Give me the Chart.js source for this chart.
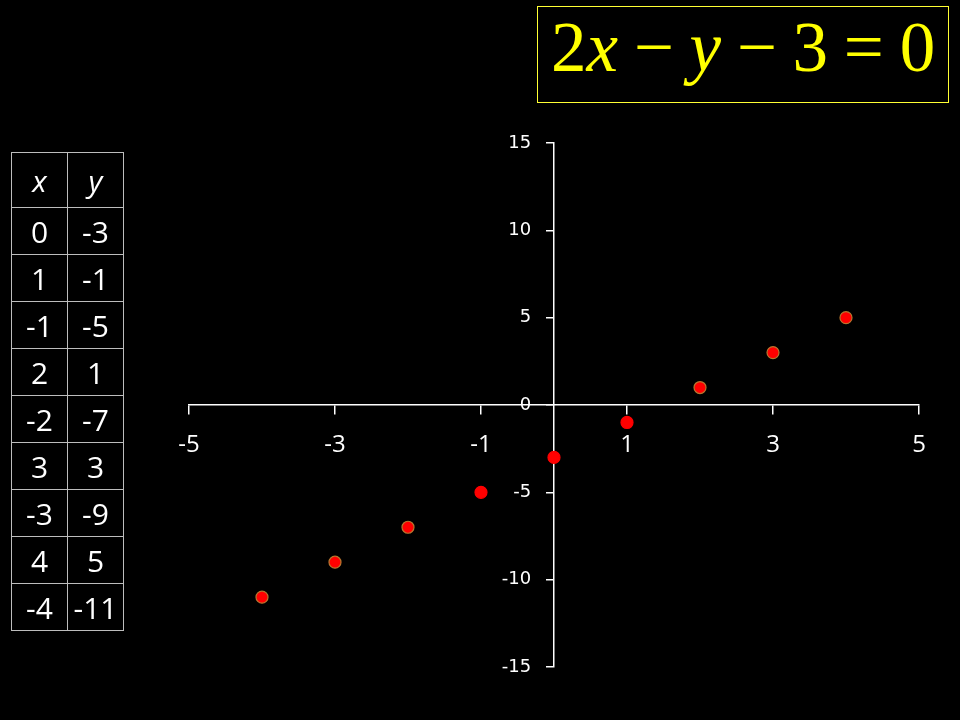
<!DOCTYPE html>
<html>
<head>
<meta charset="utf-8">
<script src="https://cdn.jsdelivr.net/npm/chart.js@4"></script>
<style>
    body { margin: 0; background: #000; }
    #wrap { position: relative; width: 960px; height: 720px; background: #000; overflow: hidden; }
    #chart { position: absolute; left: 0; top: 0; }
    #title {
        position: absolute; left: 537px; top: 6px; width: 410px; height: 95px;
        border: 1px solid #ffff33; box-sizing: content-box;
        color: #ffff00; font-family: "Liberation Serif", "Times New Roman", serif;
        font-size: 71px; line-height: 81px; white-space: nowrap;
        word-spacing: -2px; text-indent: 13px;
    }
    #title i { font-style: italic; }
    #tabel { position: absolute; left: 11px; top: 152px; border-collapse: collapse; }
    #tabel td {
        border: 1px solid #bdbdbd; width: 55px; height: 46px; padding: 0;
        color: #fff; text-align: center; font-family: "Open Sans", sans-serif; font-size: 30px;
    }
    #tabel tr.head td { height: 54px; font-style: italic; }
</style>
</head>
<body>
<div id="wrap">
    <canvas id="chart" width="960" height="720"></canvas>
    <div id="title">2<i>x</i> − <i>y</i> − 3 = 0</div>
    <table id="tabel"></table>
</div>
<script>
// nilai tabel x dan y
var nilaiX = [0, 1, -1, 2, -2, 3, -3, 4, -4];
var nilaiY = [-3, -1, -5, 1, -7, 3, -9, 5, -11];
var tickX = [-5, -3, -1, 1, 3, 5];
var tickY = [-15, -10, -5, 0, 5, 10, 15];
var judulKolom = ['x', 'y'];

// titik dekat sumbu tanpa garis tepi
var tepiTitik = ['#ff0000', '#ff0000', '#ff0000', '#b8762e', '#b8762e', '#b8762e', '#b8762e', '#b8762e', '#b8762e'];

// isi tabel
var tabel = document.getElementById('tabel');
var html = '<tr class="head"><td>' + judulKolom[0] + '</td><td>' + judulKolom[1] + '</td></tr>';
for (var i = 0; i < nilaiX.length; i++) {
    html += '<tr><td>' + nilaiX[i] + '</td><td>' + nilaiY[i] + '</td></tr>';
}
tabel.innerHTML = html;

var titik = [];
for (let i in nilaiX) {
    titik.push({ x: nilaiX[i], y: nilaiY[i] });
}

chartGaris = new Chart(document.getElementById('chart'), {
    type: 'scatter',
    data: {
        datasets: [{
            label: '2x - y - 3 = 0',
            data: titik,
            backgroundColor: '#ff0000',
            borderColor: tepiTitik,
            borderWidth: 1.2,
            pointRadius: 6,
            pointHoverRadius: 6
        }]
    },
    options: {
        responsive: false,
        animation: false,
        devicePixelRatio: 1,
        layout: {
            padding: { left: 189, right: 41, top: 143, bottom: 53 }
        },
        plugins: {
            legend: { display: false },
            tooltip: { enabled: false }
        },
        scales: {
            x: {
                type: 'linear',
                min: -5,
                max: 5,
                position: { y: 0 },
                afterFit: function (s) { s.height = 0; },
                afterBuildTicks: function (s) {
                    s.ticks = tickX.map(function (v) { return { value: v }; });
                },
                grid: { display: true, drawOnChartArea: false, drawTicks: true, tickLength: 9, color: '#ffffff', lineWidth: 1.5 },
                border: { display: true, color: '#ffffff', width: 1.5 },
                ticks: {
                    color: '#ffffff',
                    padding: 17,
                    maxRotation: 0,
                    autoSkip: false,
                    font: { family: 'Open Sans', size: 24 }
                }
            },
            y: {
                type: 'linear',
                min: -15,
                max: 15,
                position: { x: 0 },
                afterFit: function (s) { s.width = 0; },
                afterBuildTicks: function (s) {
                    s.ticks = tickY.map(function (v) { return { value: v }; });
                },
                grid: { display: true, drawOnChartArea: false, drawTicks: true, tickLength: 7, color: '#ffffff', lineWidth: 1.5 },
                border: { display: true, color: '#ffffff', width: 1.5 },
                ticks: {
                    color: '#ffffff',
                    autoSkip: false,
                    font: { family: 'DejaVu Sans', size: 18 },
                    // label rata kanan di garis sumbu, beri jarak dengan spasi
                    callback: function (v) { return v + '    '; }
                }
            }
        }
    }
});
</script>
</body>
</html>
